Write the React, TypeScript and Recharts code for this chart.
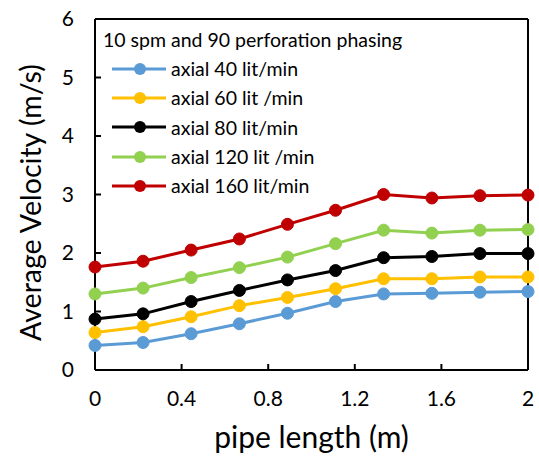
import React from 'react';
import { LineChart, Line, XAxis, YAxis, ReferenceLine } from 'recharts';

const pipeLength = [0, 0.222, 0.444, 0.667, 0.889, 1.111, 1.333, 1.556, 1.778, 2];
const axial40 = [0.42, 0.47, 0.62, 0.79, 0.97, 1.17, 1.3, 1.31, 1.33, 1.34];
const axial60 = [0.64, 0.74, 0.91, 1.1, 1.24, 1.39, 1.56, 1.56, 1.59, 1.59];
const axial80 = [0.87, 0.96, 1.17, 1.36, 1.54, 1.7, 1.92, 1.94, 1.99, 1.99];
const axial120 = [1.3, 1.4, 1.58, 1.75, 1.93, 2.16, 2.39, 2.34, 2.39, 2.4];
const axial160 = [1.76, 1.86, 2.05, 2.24, 2.49, 2.73, 3.0, 2.94, 2.98, 2.99];
const xTicks = [0, 0.4, 0.8, 1.2, 1.6, 2];
const yTicks = [0, 1, 2, 3, 4, 5, 6];

const series = [
  { key: 'a40', name: 'axial 40 lit/min', color: '#5b9bd5', values: axial40 },
  { key: 'a60', name: 'axial 60 lit /min', color: '#ffc000', values: axial60 },
  { key: 'a80', name: 'axial 80 lit/min', color: '#000000', values: axial80 },
  { key: 'a120', name: 'axial 120 lit /min', color: '#92d050', values: axial120 },
  { key: 'a160', name: 'axial 160 lit/min', color: '#c00000', values: axial160 },
];

const data = pipeLength.map((x, i) => {
  const row: Record<string, number> = { x };
  series.forEach(s => { row[s.key] = s.values[i]; });
  return row;
});

const font = 'Lato, "Liberation Sans", sans-serif';

function LegendBox() {
  return (
    <div style={{ position: 'absolute', left: 103, top: 28, fontFamily: font, color: '#000' }}>
      <div style={{ fontSize: 19.5, lineHeight: '24px', marginBottom: 2, whiteSpace: 'nowrap' }}>10 spm and 90 perforation phasing</div>
      {series.map(s => (
        <div key={s.key} style={{ display: 'flex', alignItems: 'center', height: 29.3, fontSize: 19.5, whiteSpace: 'nowrap' }}>
          <svg width={59} height={14} style={{ marginLeft: 9 }}>
            <line x1={0} y1={7} x2={54} y2={7} stroke={s.color} strokeWidth={3} />
            <circle cx={28} cy={7} r={6} fill={s.color} />
          </svg>
          <span>{s.name}</span>
        </div>
      ))}
    </div>
  );
}

export default function App() {
  return (
    <div style={{ position: 'absolute', left: 0, top: 0, width: 539, height: 457, background: '#fff' }}>
      <LineChart width={539} height={457} data={data} margin={{ top: 19, right: 11, bottom: 0, left: 0 }}>
        <XAxis
          dataKey="x"
          type="number"
          domain={[0, 2]}
          ticks={xTicks}
          height={87}
          stroke="#000"
          strokeWidth={2}
          tickSize={-6}
          tickMargin={27}
          tick={{ fill: '#000', fontSize: 21, fontFamily: font }}
          label={{ value: 'pipe length (m)', position: 'insideBottom', offset: 9, fill: '#000', fontSize: 30, fontFamily: font }}
        />
        <YAxis
          type="number"
          domain={[0, 6]}
          ticks={yTicks}
          width={95}
          stroke="#000"
          strokeWidth={2}
          tickSize={-6}
          tickMargin={27}
          tick={{ fill: '#000', fontSize: 21, fontFamily: font }}
          label={{ value: 'Average Velocity (m/s)', angle: -90, position: 'center', dx: -17, dy: 8, fill: '#000', fontSize: 28.5, fontFamily: font }}
        />
        <ReferenceLine y={6} stroke="#000" strokeWidth={2} />
        <ReferenceLine x={2} stroke="#000" strokeWidth={2} />
        {series.map(s => (
          <Line
            key={s.key}
            dataKey={s.key}
            name={s.name}
            stroke={s.color}
            strokeWidth={3}
            dot={{ r: 6, fill: s.color, stroke: s.color, strokeWidth: 1 }}
            isAnimationActive={false}
          />
        ))}
      </LineChart>
      <LegendBox />
    </div>
  );
}
